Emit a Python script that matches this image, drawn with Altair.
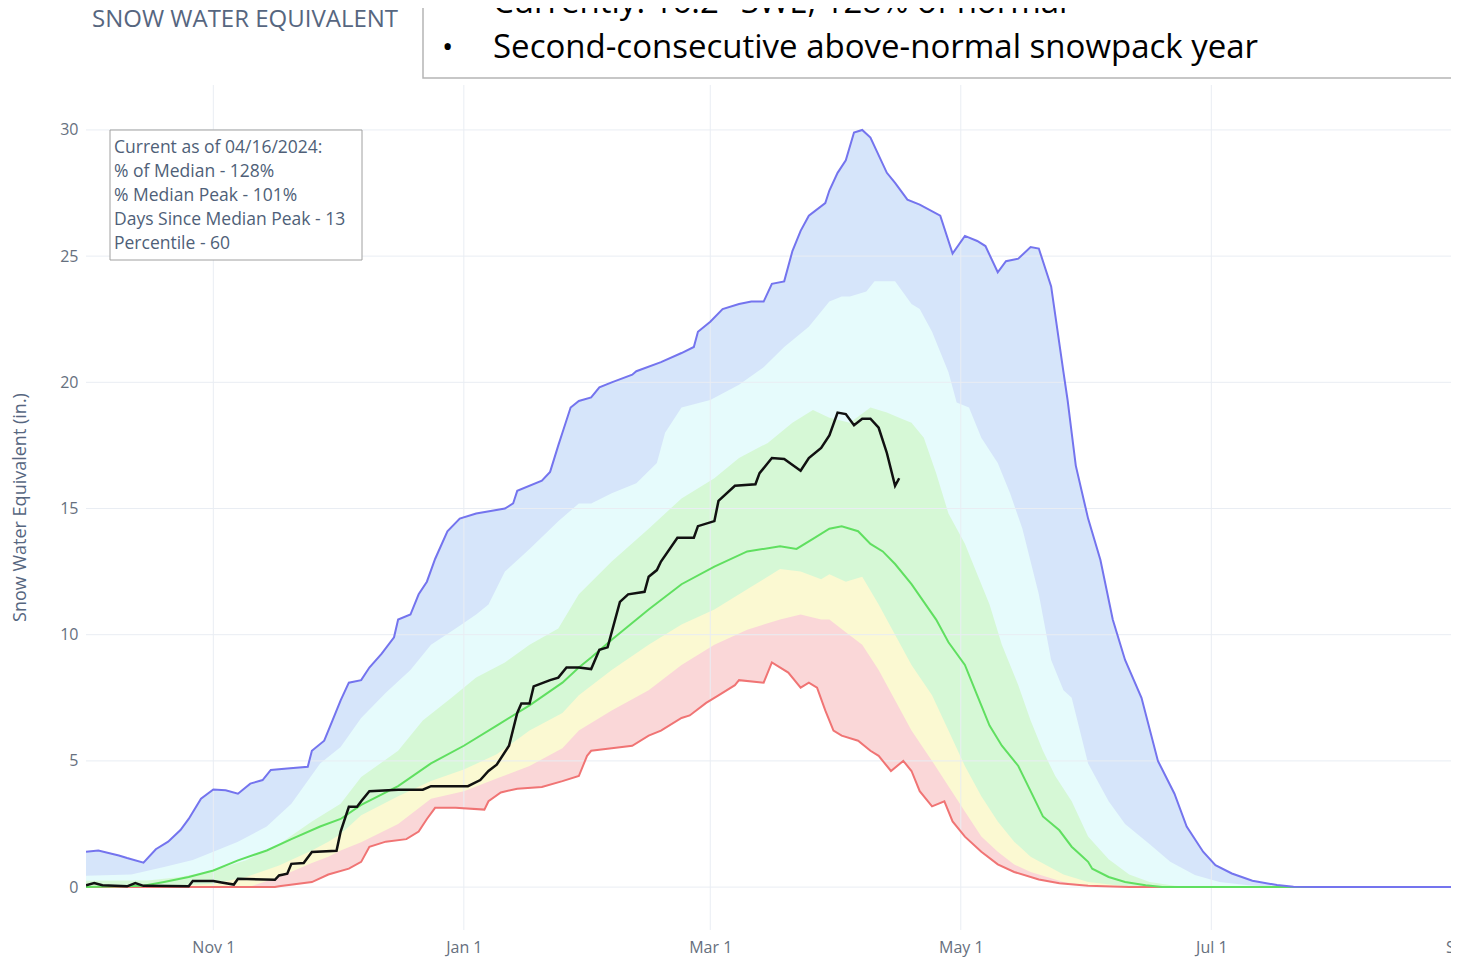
import altair as alt
import pandas as pd

# ---------------- data (days since Oct 1 of the water year, SWE in inches) ----------------
MAX_DAY = [0,3,8,10,14,17,20,23,25,28,31,34,37,40,43,45,49,54,55,58,60,62,64,67,69,72,75,76,79,81,
           83,85,88,91,95,102,104,105,111,113,115,116,118,120,123,125,128,133,134,140,145,148,149,152,
           155,159,162,165,167,170,172,174,176,180,181,183,185,187,189,191,195,197,200,203,208,211,214,
           217,219,222,224,227,230,232,235,238,239,240,241,243,244,247,250,253,257,261,265,268,272,275,
           279,284,290,294,300,366]
MAX_SWE = [1.4,1.45,1.25,1.15,0.97,1.5,1.8,2.26,2.7,3.5,3.87,3.84,3.7,4.1,4.24,4.64,4.7,4.77,5.4,5.8,
           6.6,7.4,8.1,8.2,8.7,9.25,9.9,10.6,10.8,11.6,12.1,13.0,14.1,14.6,14.8,15.0,15.2,15.7,16.1,16.45,
           17.5,18.0,19.0,19.26,19.4,19.8,20.0,20.3,20.44,20.8,21.16,21.4,22.0,22.4,22.9,23.1,23.2,23.2,
           23.9,24.0,25.2,26.0,26.6,27.1,27.6,28.3,28.8,29.9,30.0,29.7,28.3,27.9,27.24,27.04,26.6,25.1,
           25.8,25.6,25.4,24.36,24.8,24.9,25.36,25.3,23.8,20.4,19.3,18.0,16.7,15.3,14.6,12.96,10.6,9.0,
           7.5,5.0,3.71,2.4,1.4,0.87,0.54,0.25,0.08,0.01,0,0]

P90_DAY = [0,11,19,26,31,37,44,50,57,62,67,73,79,84,90,95,98,102,108,115,120,123,128,134,139,141,145,
           152,159,165,170,176,181,184,186,190,192,197,201,203,206,210,212,215,218,222,225,228,232,235,
           238,240,244,249,253,259,264,270,276,283,290,366]
P90_SWE = [0.45,0.5,0.8,1.07,1.4,1.8,2.4,3.3,4.9,5.55,6.7,7.7,8.6,9.6,10.25,10.8,11.2,12.5,13.4,14.5,
           15.2,15.2,15.6,16.0,16.8,18.0,19.0,19.3,19.9,20.6,21.4,22.2,23.2,23.4,23.4,23.6,24.0,24.0,
           23.1,22.9,22.0,20.4,19.2,19.0,17.8,16.8,15.6,14.2,11.6,9.0,7.8,7.5,4.9,3.4,2.5,1.7,1.0,0.48,
           0.2,0.07,0,0]

P70_DAY = [0,15,23,31,39,47,55,62,67,76,82,89,95,102,108,115,120,128,137,145,153,159,166,172,177,181,
           186,191,195,198,201,204,207,210,214,217,220,223,227,230,233,236,240,244,249,254,259,265,270,366]
P70_SWE = [0.25,0.26,0.4,0.66,1.06,1.7,2.6,3.3,4.36,5.4,6.6,7.5,8.3,8.9,9.6,10.25,11.6,12.9,14.2,15.4,
           16.2,17.0,17.6,18.4,18.9,18.6,18.4,19.0,18.8,18.6,18.4,17.8,16.4,14.8,13.6,12.4,11.2,9.6,8.0,
           6.6,5.4,4.4,3.4,2.0,1.1,0.5,0.2,0.05,0,0]

P30_DAY = [0,25,31,39,47,55,59,62,67,76,84,92,100,108,116,120,128,137,145,153,161,169,174,179,181,185,
           189,193,197,201,206,210,214,218,222,226,230,238,244,252,258,366]
P30_SWE = [0.05,0.08,0.13,0.4,0.86,1.45,1.8,2.1,2.85,3.6,4.2,4.66,5.26,6.2,6.9,7.6,8.6,9.6,10.4,11.0,
           11.8,12.6,12.5,12.2,12.4,12.1,12.3,11.2,10.0,8.8,7.6,6.2,4.8,3.6,2.6,1.8,1.2,0.5,0.2,0.05,0,0]

P10_DAY = [0,40,47,55,59,62,67,76,84,92,100,108,116,120,128,137,145,153,161,169,174,179,181,185,189,
           193,197,201,206,210,214,218,222,226,230,238,244,250,366]
P10_SWE = [0,0.02,0.4,0.95,1.2,1.45,1.78,2.5,3.5,3.8,4.3,4.8,5.5,6.2,7.0,7.8,8.8,9.6,10.2,10.6,10.8,
           10.6,10.6,10.1,9.6,8.6,7.4,6.2,5.0,4.0,3.0,2.0,1.4,0.9,0.6,0.2,0.05,0,0]

MIN_DAY = [0,46,47,55,59,64,67,69,73,78,81,83,85,90,97,98,101,105,111,116,120,122,123,128,133,137,140,
           145,147,151,154,158,159,165,167,171,174,176,178,180,182,184,188,191,193,196,199,201,203,206,
           209,211,214,218,222,226,232,237,244,254,366]
MIN_SWE = [0,0,0.03,0.2,0.5,0.73,1.0,1.6,1.8,1.9,2.2,2.7,3.14,3.14,3.07,3.4,3.75,3.9,3.97,4.2,4.4,5.2,
           5.4,5.5,5.6,6.0,6.2,6.7,6.8,7.3,7.6,8.0,8.2,8.1,8.9,8.5,7.9,8.1,7.9,7.0,6.2,6.0,5.8,5.4,5.2,
           4.6,5.0,4.6,3.8,3.2,3.4,2.6,2.0,1.4,0.9,0.6,0.3,0.15,0.05,0,0]

MED_DAY = [0,14,19,25,31,37,44,50,57,62,67,76,84,92,100,108,116,120,123,128,137,145,153,161,169,173,177,
           181,184,188,191,194,197,201,204,207,210,214,217,220,223,227,230,233,237,240,242,244,245,249,
           253,258,262,366]
MED_SWE = [0,0.05,0.2,0.4,0.66,1.06,1.45,1.9,2.4,2.7,3.26,4.0,4.9,5.6,6.4,7.2,8.1,8.7,9.1,9.8,11.0,12.0,
           12.7,13.3,13.5,13.4,13.8,14.2,14.3,14.1,13.6,13.3,12.8,12.0,11.3,10.6,9.7,8.8,7.6,6.4,5.6,4.8,
           3.8,2.8,2.25,1.6,1.3,1.0,0.73,0.4,0.2,0.07,0,0]

CUR_DAY = [0,2,4,10,12,14,25,26,31,33,36,37,46,47,49,50,53,55,61,62,64,66,67,69,76,82,84,93,96,98,100,
           103,105,106,108,109,113,115,117,120,123,125,127,130,132,136,137,139,140,144,148,149,153,154,
           158,163,164,167,170,174,176,179,181,183,185,187,189,191,193,195,197,198]
CUR_SWE = [0.07,0.16,0.07,0.03,0.16,0.05,0.03,0.24,0.24,0.18,0.1,0.33,0.29,0.46,0.53,0.92,0.95,1.39,1.44,
           2.2,3.18,3.18,3.4,3.8,3.86,3.86,4.0,4.0,4.24,4.6,4.85,5.6,6.9,7.27,7.27,7.95,8.2,8.3,8.7,8.7,
           8.64,9.4,9.5,11.3,11.6,11.7,12.3,12.56,12.9,13.84,13.84,14.3,14.5,15.3,15.9,15.96,16.4,17.0,
           16.96,16.5,17.0,17.4,17.9,18.8,18.74,18.3,18.56,18.56,18.2,17.2,15.9,16.2]

Y_TICKS = [0, 5, 10, 15, 20, 25, 30]
X_TICKS = ["2023-11-01", "2024-01-01", "2024-03-01", "2024-05-01", "2024-07-01", "2024-09-01"]

TITLE = "SNOW WATER EQUIVALENT"
Y_TITLE = "Snow Water Equivalent (in.)"
INFO_LINES = ["Current as of 04/16/2024:", "% of Median - 128%", "% Median Peak - 101%",
              "Days Since Median Peak - 13", "Percentile - 60"]
BULLET_1 = "Currently: 16.2\" SWE, 128% of normal"
BULLET_2 = "Second-consecutive above-normal snowpack year"

# ---------------- helpers ----------------
BASE = pd.Timestamp("2023-10-01")


def frame(days, vals):
    assert len(days) == len(vals)
    return pd.DataFrame({"date": BASE + pd.to_timedelta(days, unit="D"), "swe": vals})


def dt(s):
    t = pd.Timestamp(s)
    return alt.DateTime(year=t.year, month=t.month, date=t.day)


FONT = "Open Sans"
LABEL_C = "#66707e"
TITLE_C = "#56667f"
GRID_C = "#e9edf3"
PX_PER_DAY = 4.107

x_enc = alt.X(
    "date:T",
    scale=alt.Scale(domain=[dt("2023-10-01"), dt("2024-10-01")], range=[0, 366 * PX_PER_DAY]),
    axis=alt.Axis(values=[dt(s) for s in X_TICKS], format="%b %-d", labelFont=FONT,
                  labelFontSize=16, labelColor=LABEL_C, grid=False, domain=False, ticks=False,
                  labelPadding=9, labelFlush=False, labelOverlap=False, title=None),
)
y_enc = alt.Y(
    "swe:Q",
    scale=alt.Scale(domain=[-1.70, 31.78], nice=False, zero=False),
    axis=alt.Axis(values=Y_TICKS, labelFont=FONT, labelFontSize=16, labelColor=LABEL_C, grid=False,
                  domain=False, ticks=False, labelPadding=8, title=Y_TITLE, titleFont=FONT,
                  titleFontSize=18, titleFontWeight="normal", titleColor=TITLE_C, titleX=-66,
                  titleY=422, titleAngle=270, titleAlign="center", titleBaseline="middle"),
)


def band(days, vals, color):
    return alt.Chart(frame(days, vals)).mark_area(color=color, opacity=1, clip=True).encode(
        x=x_enc, y=y_enc, y2=alt.datum(0))


def line(days, vals, color, width):
    return alt.Chart(frame(days, vals)).mark_line(color=color, strokeWidth=width, clip=True).encode(
        x=x_enc, y=y_enc)


bands = [
    band(MAX_DAY, MAX_SWE, "#d6e5fa"),
    band(P90_DAY, P90_SWE, "#e6fbfc"),
    band(P70_DAY, P70_SWE, "#d6f8d6"),
    band(P30_DAY, P30_SWE, "#fbf9d2"),
    band(P10_DAY, P10_SWE, "#fad7d8"),
    band(MIN_DAY, MIN_SWE, "#ffffff"),
]

ygrid = alt.Chart(pd.DataFrame({"swe": Y_TICKS})).mark_rule(color=GRID_C, strokeWidth=1, clip=True).encode(
    y=y_enc)
xgrid = alt.Chart(pd.DataFrame({"date": pd.to_datetime(X_TICKS)})).mark_rule(
    color=GRID_C, strokeWidth=1, clip=True).encode(x=x_enc)

lines = [
    line(MIN_DAY, MIN_SWE, "#f07474", 2),
    line(MED_DAY, MED_SWE, "#60df60", 2),
    line(MAX_DAY, MAX_SWE, "#7474ee", 2),
    line(CUR_DAY, CUR_SWE, "#111111", 2.5),
]

ONE = pd.DataFrame({"k": [0]})

info_box = alt.Chart(ONE).mark_rect(fill="white", stroke="#a0a0a0", strokeWidth=1).encode(
    x=alt.value(24), x2=alt.value(276), y=alt.value(45), y2=alt.value(175))
info_text = alt.Chart(ONE).mark_text(align="left", baseline="top", lineHeight=24, font=FONT,
                                     fontSize=17.5, color="#4f5f78").encode(
    x=alt.value(28), y=alt.value(54), text=alt.value(INFO_LINES))

title = alt.Chart(ONE).mark_text(align="left", baseline="alphabetic", font=FONT, fontSize=24,
                                 color=TITLE_C).encode(
    x=alt.value(6), y=alt.value(-58), text=alt.value(TITLE))

over_box = alt.Chart(ONE).mark_rect(fill="white", stroke="#b5b5b5", strokeWidth=1.5).encode(
    x=alt.value(337), x2=alt.value(1500), y=alt.value(-140), y2=alt.value(-7))
bul_1 = alt.Chart(ONE).mark_text(align="left", baseline="alphabetic", font=FONT, fontSize=33,
                                 color="#000000").encode(
    x=alt.value(407), y=alt.value(-72), text=alt.value(BULLET_1))
bul_2 = alt.Chart(ONE).mark_text(align="left", baseline="alphabetic", font=FONT, fontSize=33,
                                 color="#000000").encode(
    x=alt.value(407), y=alt.value(-27), text=alt.value(BULLET_2))
dot_1 = alt.Chart(ONE).mark_text(align="left", baseline="alphabetic", font=FONT, fontSize=30,
                                 color="#000000").encode(
    x=alt.value(356), y=alt.value(-72), text=alt.value("\u2022"))
dot_2 = alt.Chart(ONE).mark_text(align="left", baseline="alphabetic", font=FONT, fontSize=30,
                                 color="#000000").encode(
    x=alt.value(356), y=alt.value(-28), text=alt.value("\u2022"))

chart = alt.layer(
    *bands, ygrid, xgrid, *lines, info_box, info_text, title, over_box, bul_1, bul_2, dot_1, dot_2
).properties(
    width=1365, height=845,
    autosize=alt.AutoSizeParams(type="none"),
    padding={"left": 78, "top": 77, "right": 0, "bottom": 28},
    background="white",
).configure_view(stroke=None)

chart.save("out.html", embed_options={"renderer": "svg", "actions": False})
